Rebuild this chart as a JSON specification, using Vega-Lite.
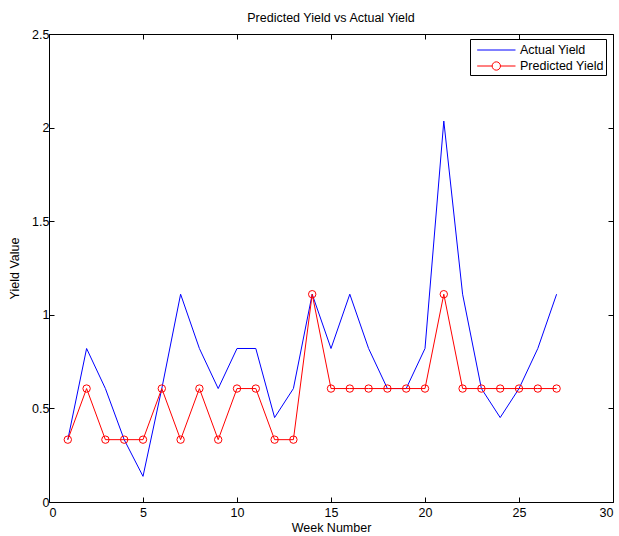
{
  "$schema": "https://vega.github.io/schema/vega-lite/v6.json",
  "width": 564,
  "height": 468,
  "autosize": {"type": "none"},
  "padding": {"left": 49, "top": 34, "right": 6, "bottom": 34},
  "background": "white",
  "title": {"text": "Predicted Yield vs Actual Yield", "fontSize": 12.5, "fontWeight": "normal", "font": "Liberation Sans", "offset": 4, "color": "#000"},
  "config": {
    "view": {"stroke": "#000", "strokeWidth": 1},
    "font": "Liberation Sans",
    "axis": {"grid": false, "domain": false, "tickColor": "#000", "labelColor": "#000", "titleColor": "#000", "labelFontSize": 12.5, "titleFontSize": 12.5, "titleFontWeight": "normal", "labelFont": "Liberation Sans", "titleFont": "Liberation Sans"}
  },
  "data": {"values": [
    {"week": 1, "series": "Actual Yield", "value": 0.333},
    {"week": 2, "series": "Actual Yield", "value": 0.82},
    {"week": 3, "series": "Actual Yield", "value": 0.606},
    {"week": 4, "series": "Actual Yield", "value": 0.333},
    {"week": 5, "series": "Actual Yield", "value": 0.137},
    {"week": 6, "series": "Actual Yield", "value": 0.606},
    {"week": 7, "series": "Actual Yield", "value": 1.11},
    {"week": 8, "series": "Actual Yield", "value": 0.82},
    {"week": 9, "series": "Actual Yield", "value": 0.606},
    {"week": 10, "series": "Actual Yield", "value": 0.82},
    {"week": 11, "series": "Actual Yield", "value": 0.82},
    {"week": 12, "series": "Actual Yield", "value": 0.451},
    {"week": 13, "series": "Actual Yield", "value": 0.606},
    {"week": 14, "series": "Actual Yield", "value": 1.11},
    {"week": 15, "series": "Actual Yield", "value": 0.82},
    {"week": 16, "series": "Actual Yield", "value": 1.11},
    {"week": 17, "series": "Actual Yield", "value": 0.82},
    {"week": 18, "series": "Actual Yield", "value": 0.606},
    {"week": 19, "series": "Actual Yield", "value": 0.606},
    {"week": 20, "series": "Actual Yield", "value": 0.82},
    {"week": 21, "series": "Actual Yield", "value": 2.035},
    {"week": 22, "series": "Actual Yield", "value": 1.11},
    {"week": 23, "series": "Actual Yield", "value": 0.606},
    {"week": 24, "series": "Actual Yield", "value": 0.451},
    {"week": 25, "series": "Actual Yield", "value": 0.606},
    {"week": 26, "series": "Actual Yield", "value": 0.82},
    {"week": 27, "series": "Actual Yield", "value": 1.11},
    {"week": 1, "series": "Predicted Yield", "value": 0.333},
    {"week": 2, "series": "Predicted Yield", "value": 0.606},
    {"week": 3, "series": "Predicted Yield", "value": 0.333},
    {"week": 4, "series": "Predicted Yield", "value": 0.333},
    {"week": 5, "series": "Predicted Yield", "value": 0.333},
    {"week": 6, "series": "Predicted Yield", "value": 0.606},
    {"week": 7, "series": "Predicted Yield", "value": 0.333},
    {"week": 8, "series": "Predicted Yield", "value": 0.606},
    {"week": 9, "series": "Predicted Yield", "value": 0.333},
    {"week": 10, "series": "Predicted Yield", "value": 0.606},
    {"week": 11, "series": "Predicted Yield", "value": 0.606},
    {"week": 12, "series": "Predicted Yield", "value": 0.333},
    {"week": 13, "series": "Predicted Yield", "value": 0.333},
    {"week": 14, "series": "Predicted Yield", "value": 1.11},
    {"week": 15, "series": "Predicted Yield", "value": 0.606},
    {"week": 16, "series": "Predicted Yield", "value": 0.606},
    {"week": 17, "series": "Predicted Yield", "value": 0.606},
    {"week": 18, "series": "Predicted Yield", "value": 0.606},
    {"week": 19, "series": "Predicted Yield", "value": 0.606},
    {"week": 20, "series": "Predicted Yield", "value": 0.606},
    {"week": 21, "series": "Predicted Yield", "value": 1.11},
    {"week": 22, "series": "Predicted Yield", "value": 0.606},
    {"week": 23, "series": "Predicted Yield", "value": 0.606},
    {"week": 24, "series": "Predicted Yield", "value": 0.606},
    {"week": 25, "series": "Predicted Yield", "value": 0.606},
    {"week": 26, "series": "Predicted Yield", "value": 0.606},
    {"week": 27, "series": "Predicted Yield", "value": 0.606}
  ]},
  "resolve": {"axis": {"x": "independent", "y": "independent"}},
  "layer": [
    {
      "mark": {"type": "line", "strokeWidth": 1, "clip": true},
      "encoding": {
        "x": {"field": "week", "type": "quantitative", "scale": {"domain": [0, 30], "nice": false},
              "axis": {"orient": "bottom", "values": [0,5,10,15,20,25,30], "tickSize": -5, "labelPadding": 9, "title": "Week Number", "titlePadding": 3}},
        "y": {"field": "value", "type": "quantitative", "scale": {"domain": [0, 2.5], "nice": false, "zero": false},
              "axis": {"orient": "left", "values": [0,0.5,1,1.5,2,2.5], "format": "~g", "tickSize": -5, "labelPadding": 5, "title": "Yield Value", "titlePadding": 10}},
        "color": {"field": "series", "type": "nominal", "scale": {"domain": ["Actual Yield", "Predicted Yield"], "range": ["#0000ff", "#ff0000"]}},
        "detail": {"field": "series"}
      }
    },
    {
      "transform": [{"filter": "datum.series == 'Predicted Yield'"}],
      "mark": {"type": "point", "shape": "circle", "filled": false, "size": 55, "strokeWidth": 1, "opacity": 1},
      "encoding": {
        "x": {"field": "week", "type": "quantitative", "axis": {"orient": "top", "values": [0,5,10,15,20,25,30], "tickSize": -5, "labels": false, "title": null}},
        "y": {"field": "value", "type": "quantitative", "axis": {"orient": "right", "values": [0,0.5,1,1.5,2,2.5], "tickSize": -5, "labels": false, "title": null}},
        "color": {"field": "series", "type": "nominal"}
      }
    },
    {
      "transform": [{"filter": "datum.series == 'none'"}],
      "mark": {"type": "point", "filled": false, "strokeWidth": 1},
      "encoding": {
        "x": {"field": "week", "type": "quantitative", "axis": null},
        "y": {"field": "value", "type": "quantitative", "axis": null},
        "color": {"field": "series", "type": "nominal",
                  "legend": {"title": null, "orient": "none", "legendX": 421, "legendY": 5, "strokeColor": "#000", "fillColor": "#fff", "padding": 2, "symbolSize": 289, "symbolStrokeWidth": 1, "labelFontSize": 12.5, "labelFont": "Liberation Sans", "labelColor": "#000", "labelOffset": 30, "rowPadding": 0, "symbolOpacity": 1}},
        "shape": {"field": "series", "type": "nominal",
                  "scale": {"domain": ["Actual Yield", "Predicted Yield"], "range": ["M-0.45,0H4.06", "M-0.45,0H1.31M2.29,0H4.06M2.29,0A0.49,0.49 0 1,1 1.31,0A0.49,0.49 0 1,1 2.29,0"]},
                  "legend": {"title": null}}
      }
    }
  ]
}
